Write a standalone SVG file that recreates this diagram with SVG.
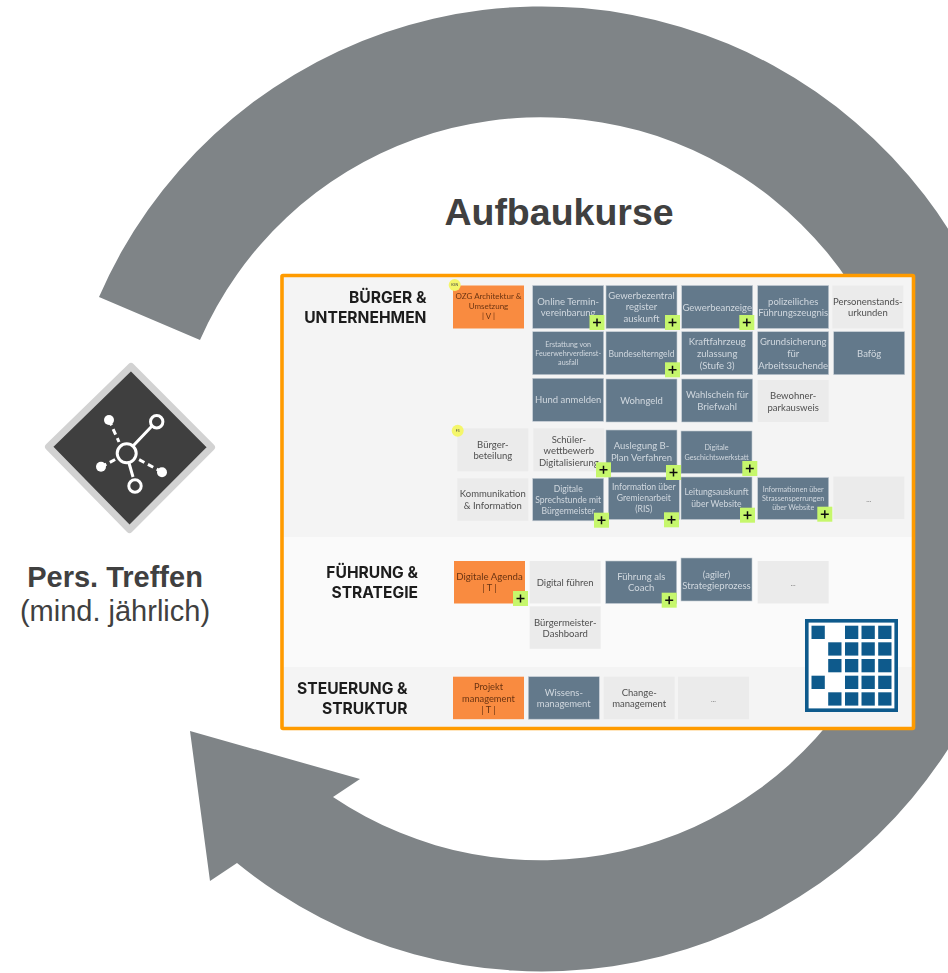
<svg xmlns="http://www.w3.org/2000/svg" width="948" height="973" viewBox="0 0 948 973">
<style>
text{font-family:"Lato","Liberation Sans",sans-serif;text-anchor:middle}
.a{font-family:"Liberation Sans",Arial,sans-serif;fill:#404040}
.h{font-family:"Inter","Liberation Sans",sans-serif;font-weight:700;font-size:15.6px;fill:#1c1c1c;text-anchor:end}
.s rect{fill:#64798b;stroke:#c3ccd4;stroke-width:.6}
.l rect{fill:#ebebeb}
.o rect{fill:#f98b3f}
.s text{fill:#d0d8df;font-size:9.500px}
.l text{fill:#4f4f4f;font-size:9.500px}
.o text{fill:#6b3413;font-size:9.300px}
.s text.m{font-size:8.600px}
.s text.x{font-size:7.200px}
.o text.n{font-size:8px}
.o text.g{font-size:9.600px}
.l text.d{font-size:7px;fill:#777}
.y circle{fill:#f4f66b}
.y text{font-size:3.500px;fill:#444}
.lg{fill:#0e5a8c}
.ic{stroke:#fff;fill:none;stroke-width:3}
</style>
<defs>
<filter id="soft" filterUnits="userSpaceOnUse" x="270" y="265" width="655" height="475"><feGaussianBlur stdDeviation="0.45"/></filter>
<g id="plus"><rect width="15" height="15" fill="#c6f76c"/><path d="M3.500 7.500h8M7.500 3.500v8" stroke="#111" stroke-width="1.500" fill="none"/></g>
</defs>
<g id="connectors">
<path d="M99 297A482.500 482.500 0 1 1 237 863L210 881L190 731L360 779L333 797A371.500 371.500 0 1 0 200 340Z" fill="#7f8487"/>
</g>
<g id="title"><text class="a" x="559" y="225" font-size="37.500" font-weight="700">Aufbaukurse</text></g>
<g id="icon-treffen">
<path d="M131 366.500L211.500 447.300L129.500 529.500L48.500 446.700Z" fill="#3f3f3f" stroke="#d2d2d2" stroke-width="7" stroke-linejoin="round"/>
<path class="ic" d="M133 446L152 426M129 463L133 477"/>
<path class="ic" d="M109 420L119 442M101 467L118 458M162 472L136 458" stroke-dasharray="6 4"/>
<circle class="ic" cx="126.700" cy="453.300" r="9.500" stroke-width="3.500"/>
<circle class="ic" cx="156.700" cy="421.700" r="6.200"/>
<circle class="ic" cx="135" cy="486" r="6.200"/>
<circle cx="109" cy="420" r="5" fill="#fff"/><circle cx="101" cy="466.700" r="5" fill="#fff"/><circle cx="162" cy="472.300" r="5" fill="#fff"/>
</g>
<g id="label-treffen">
<text class="a" x="115" y="587" font-size="29" font-weight="700">Pers. Treffen</text>
<text class="a" x="115" y="621" font-size="29">(mind. jährlich)</text>
</g>
<g id="panel" filter="url(#soft)">
<rect x="282" y="275.500" width="632" height="453" fill="#f4f4f4"/>
<rect x="283" y="537" width="629" height="130" fill="#fafafa"/>
<rect x="282" y="275.500" width="631.500" height="453" fill="none" stroke="#ff9b00" stroke-width="3.600" rx="1"/>
<g id="head-1"><text class="h" x="426.500" y="303">BÜRGER &amp;</text><text class="h" x="426.500" y="322.700">UNTERNEHMEN</text></g>
<g id="head-2"><text class="h" x="418" y="578">FÜHRUNG &amp;</text><text class="h" x="418" y="597.700">STRATEGIE</text></g>
<g id="head-3"><text class="h" x="407.500" y="693.700">STEUERUNG &amp;</text><text class="h" x="407.500" y="713.700">STRUKTUR</text></g>

<g id="n-ozg" class="o"><rect x="453" y="285.500" width="71" height="43"/><text class="n" x="488.500" y="298.500">OZG Architektur &amp;</text><text class="n" x="488.500" y="309">Umsetzung</text><text class="n" x="488.500" y="319">| V |</text></g>
<g id="n-online" class="s"><rect x="532.700" y="285.500" width="71" height="43"/><text x="568.200" y="304.500">Online Termin-</text><text x="568.200" y="316">vereinbarung</text></g>
<g id="n-gewerbezentral" class="s"><rect x="606" y="285.500" width="71" height="43"/><text x="641.500" y="298.500">Gewerbezentral</text><text x="641.500" y="310">register</text><text x="641.500" y="321.500">auskunft</text></g>
<g id="n-gewerbeanzeige" class="s"><rect x="681.700" y="285.500" width="71" height="43"/><text x="717.200" y="310.500">Gewerbeanzeige</text></g>
<g id="n-polizei" class="s"><rect x="757.700" y="285.500" width="71" height="43"/><text x="793.200" y="304.500">polizeiliches</text><text x="793.200" y="316">Führungszeugnis</text></g>
<g id="n-personen" class="l"><rect x="832.300" y="285.500" width="71" height="43"/><text x="867.800" y="304.500">Personenstands-</text><text x="867.800" y="316">urkunden</text></g>

<g id="n-erstattung" class="s"><rect x="532.700" y="331.700" width="71" height="43"/><text class="x" x="568.200" y="346.500">Erstattung von</text><text class="x" x="568.200" y="355.800">Feuerwehrverdienst-</text><text class="x" x="568.200" y="364.800">ausfall</text></g>
<g id="n-bundes" class="s"><rect x="606" y="331.700" width="71" height="43"/><text class="m" x="641.500" y="357">Bundeselterngeld</text></g>
<g id="n-kfz" class="s"><rect x="681.700" y="331.700" width="71" height="43"/><text x="717.200" y="345">Kraftfahrzeug</text><text x="717.200" y="357">zulassung</text><text x="717.200" y="368.500">(Stufe 3)</text></g>
<g id="n-grund" class="s"><rect x="757.700" y="331.700" width="71" height="43"/><text x="793.200" y="345">Grundsicherung</text><text x="793.200" y="357">für</text><text x="793.200" y="368.500">Arbeitssuchende</text></g>
<g id="n-bafoeg" class="s"><rect x="833.700" y="331.700" width="71" height="43"/><text x="869.200" y="357">Bafög</text></g>

<g id="n-hund" class="s"><rect x="532.700" y="378.300" width="71" height="43"/><text x="568.200" y="403">Hund anmelden</text></g>
<g id="n-wohngeld" class="s"><rect x="606" y="379" width="71" height="43"/><text x="641.500" y="403.500">Wohngeld</text></g>
<g id="n-wahl" class="s"><rect x="681.700" y="379" width="71" height="43"/><text x="717.200" y="397.500">Wahlschein für</text><text x="717.200" y="409.500">Briefwahl</text></g>
<g id="n-bewohner" class="l"><rect x="757.700" y="380" width="71" height="42"/><text x="793.200" y="399">Bewohner-</text><text x="793.200" y="410.500">parkausweis</text></g>

<g id="n-buerger" class="l"><rect x="457.300" y="428.300" width="71" height="43"/><text x="492.800" y="447.500">Bürger-</text><text x="492.800" y="459">beteilung</text></g>
<g id="n-schueler" class="l"><rect x="533.300" y="428.300" width="71" height="43"/><text x="568.800" y="442.500">Schüler-</text><text x="568.800" y="454">wettbewerb</text><text x="568.800" y="465.500">Digitalisierung</text></g>
<g id="n-auslegung" class="s"><rect x="606" y="430" width="71" height="42.500"/><text x="641.500" y="449">Auslegung B-</text><text x="641.500" y="460.500">Plan Verfahren</text></g>
<g id="n-geschichte" class="s"><rect x="681" y="431" width="71" height="42.500"/><text class="x" x="716.500" y="450">Digitale</text><text class="x" x="716.500" y="460">Geschichtswerkstatt</text></g>

<g id="n-komm" class="l"><rect x="457.300" y="478.300" width="71" height="42.500"/><text x="492.800" y="497">Kommunikation</text><text x="492.800" y="508.500">&amp; Information</text></g>
<g id="n-sprech" class="s"><rect x="532.700" y="478.300" width="71" height="42.500"/><text class="m" x="568.200" y="492">Digitale</text><text class="m" x="568.200" y="503">Sprechstunde mit</text><text class="m" x="568.200" y="513.500">Bürgermeister</text></g>
<g id="n-gremien" class="s"><rect x="608.300" y="477" width="71" height="42.500"/><text class="m" x="643.800" y="490">Information über</text><text class="m" x="643.800" y="501">Gremienarbeit</text><text class="m" x="643.800" y="512">(RIS)</text></g>
<g id="n-leitung" class="s"><rect x="681" y="477" width="71" height="42.500"/><text class="m" x="716.500" y="495">Leitungsauskunft</text><text class="m" x="716.500" y="507">über Website</text></g>
<g id="n-strassen" class="s"><rect x="757.700" y="477.500" width="71" height="42"/><text class="x" x="793.200" y="491.500">Informationen über</text><text class="x" x="793.200" y="501">Strassensperrungen</text><text class="x" x="793.200" y="510">über Website</text></g>
<g id="n-more1" class="l"><rect x="833.300" y="476.500" width="71" height="42.500"/><text class="d" x="868.800" y="502">...</text></g>

<g id="n-agenda" class="o"><rect x="454" y="561" width="71" height="42.500"/><text class="g" x="489.500" y="579.500">Digitale Agenda</text><text x="489.500" y="591">| T |</text></g>
<g id="n-fuehren" class="l"><rect x="529.700" y="561" width="71" height="42.500"/><text x="565.200" y="586">Digital führen</text></g>
<g id="n-coach" class="s"><rect x="605.700" y="561" width="71" height="42.500"/><text x="641.200" y="579.500">Führung als</text><text x="641.200" y="591">Coach</text></g>
<g id="n-agil" class="s"><rect x="681" y="558" width="71" height="43"/><text x="716.500" y="577.500">(agiler)</text><text x="716.500" y="589">Strategieprozess</text></g>
<g id="n-more2" class="l"><rect x="757.700" y="561" width="71" height="42.500"/><text class="d" x="793.200" y="586">...</text></g>
<g id="n-dash" class="l"><rect x="529.700" y="606.300" width="71" height="42.500"/><text x="565.200" y="625.500">Bürgermeister-</text><text x="565.200" y="637">Dashboard</text></g>

<g id="n-projekt" class="o"><rect x="453" y="676.700" width="71" height="42.500"/><text x="488.500" y="689.500">Projekt</text><text x="488.500" y="701.500">management</text><text x="488.500" y="713">| T |</text></g>
<g id="n-wissen" class="s"><rect x="528.300" y="676.700" width="71" height="42.500"/><text x="563.800" y="695.500">Wissens-</text><text x="563.800" y="707">management</text></g>
<g id="n-change" class="l"><rect x="603.700" y="676.700" width="71" height="42.500"/><text x="639.200" y="695.500">Change-</text><text x="639.200" y="707">management</text></g>
<g id="n-more3" class="l"><rect x="678" y="676.700" width="71" height="42.500"/><text class="d" x="713.500" y="702">...</text></g>

<g id="plus-badges">
<use href="#plus" x="589.500" y="315"/><use href="#plus" x="665" y="315"/><use href="#plus" x="739.300" y="315"/>
<use href="#plus" x="665" y="362.300"/>
<use href="#plus" x="596" y="462.300"/><use href="#plus" x="666" y="465"/><use href="#plus" x="742.300" y="461"/>
<use href="#plus" x="594" y="512.700"/><use href="#plus" x="664" y="512.300"/><use href="#plus" x="740" y="507.700"/><use href="#plus" x="817.300" y="506.700"/>
<use href="#plus" x="513" y="591"/><use href="#plus" x="661.700" y="592.700"/>
</g>
<g id="tag-ksn" class="y"><circle cx="454.700" cy="285" r="6"/><text x="454.700" y="286.200">KSN</text></g>
<g id="tag-fs" class="y"><circle cx="457.700" cy="430.700" r="6"/><text x="457.700" y="432">FS</text></g>
</g>
<g id="logo">
<rect x="806.800" y="620.800" width="89.400" height="89.400" fill="#fff" stroke="#0e5a8c" stroke-width="3.600"/>
<g class="lg">
<rect x="811.500" y="625.700" width="13.300" height="13.300"/><rect x="845" y="625.700" width="13.300" height="13.300"/><rect x="861.500" y="625.700" width="13.300" height="13.300"/><rect x="878.200" y="625.700" width="13.300" height="13.300"/>
<rect x="828.200" y="642.300" width="13.300" height="13.300"/><rect x="845" y="642.300" width="13.300" height="13.300"/><rect x="861.500" y="642.300" width="13.300" height="13.300"/><rect x="878.200" y="642.300" width="13.300" height="13.300"/>
<rect x="828.200" y="659" width="13.300" height="13.300"/><rect x="845" y="659" width="13.300" height="13.300"/><rect x="861.500" y="659" width="13.300" height="13.300"/><rect x="878.200" y="659" width="13.300" height="13.300"/>
<rect x="811.500" y="675.700" width="13.300" height="13.300"/><rect x="845" y="675.700" width="13.300" height="13.300"/><rect x="861.500" y="675.700" width="13.300" height="13.300"/><rect x="878.200" y="675.700" width="13.300" height="13.300"/>
<rect x="828.200" y="692.300" width="13.300" height="13.300"/><rect x="845" y="692.300" width="13.300" height="13.300"/><rect x="861.500" y="692.300" width="13.300" height="13.300"/><rect x="878.200" y="692.300" width="13.300" height="13.300"/>
</g>
</g>
</svg>
